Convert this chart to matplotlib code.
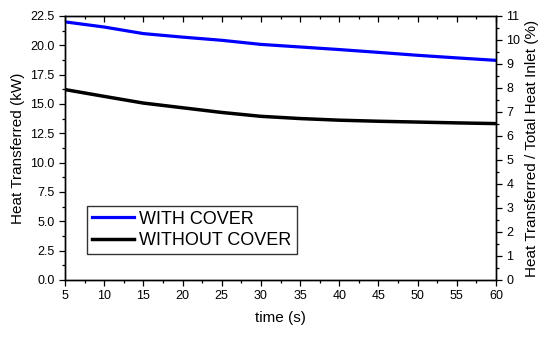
import matplotlib.pyplot as plt
from matplotlib.ticker import MultipleLocator

plt.rcParams['font.family'] = ['Liberation Sans', 'DejaVu Sans']

# data
time_s = [5, 10, 15, 20, 25, 30, 35, 40, 45, 50, 55, 60]
with_cover = [22.0, 21.56, 21.0, 20.7, 20.43, 20.08, 19.86, 19.64, 19.4, 19.15, 18.93, 18.72]
without_cover = [16.23, 15.65, 15.08, 14.68, 14.28, 13.95, 13.76, 13.62, 13.53, 13.46, 13.39, 13.33]

fig = plt.figure(figsize=(5.5, 3.38), dpi=100)
ax = fig.add_subplot(111)
fig.subplots_adjust(left=65/550, right=496/550, bottom=1-280/338, top=1-16/338)

ax.plot(time_s, with_cover, color='#0000ff', lw=2.3, label='WITH COVER')
ax.plot(time_s, without_cover, color='black', lw=2.5, label='WITHOUT COVER')

ax.set_xlim(5, 60)
ax.set_ylim(0, 22.5)
ax.xaxis.set_major_locator(MultipleLocator(5))
ax.xaxis.set_minor_locator(MultipleLocator(2.5))
ax.yaxis.set_major_locator(MultipleLocator(2.5))
ax.yaxis.set_minor_locator(MultipleLocator(1.25))
ax.yaxis.set_major_formatter(plt.FormatStrFormatter('%.1f'))
ax.tick_params(which='both', direction='out', labelsize=9, width=0.9, top=True)
ax.tick_params(which='major', length=4)
ax.tick_params(which='minor', length=2.5)
ax.set_xlabel('time (s)', fontsize=11, labelpad=6)
ax.set_ylabel('Heat Transferred (kW)', fontsize=11, labelpad=4)

ax2 = ax.twinx()
ax2.set_ylim(0, 11)
ax2.yaxis.set_major_locator(MultipleLocator(1))
ax2.yaxis.set_minor_locator(MultipleLocator(0.5))
ax2.tick_params(which='both', direction='out', labelsize=9, width=0.9)
ax2.tick_params(which='major', length=4)
ax2.tick_params(which='minor', length=2.5)
ax2.set_ylabel('Heat Transferred / Total Heat Inlet (%)', fontsize=11, labelpad=3)

# top ticks point inward
for t in ax.xaxis.get_major_ticks() + ax.xaxis.get_minor_ticks():
    t.tick2line.set_marker(3)

for a in (ax, ax2):
    for s in a.spines.values():
        s.set_linewidth(1.0)

leg = ax.legend(loc='lower left', bbox_to_anchor=(0.052, 0.098), borderaxespad=0,
                fontsize=13, frameon=True, fancybox=False, handlelength=2.3,
                handletextpad=0.3, borderpad=0.28, labelspacing=0.25)
leg.get_frame().set_edgecolor('black')
leg.get_frame().set_linewidth(1.0)

fig.savefig('out.png', dpi=100)
